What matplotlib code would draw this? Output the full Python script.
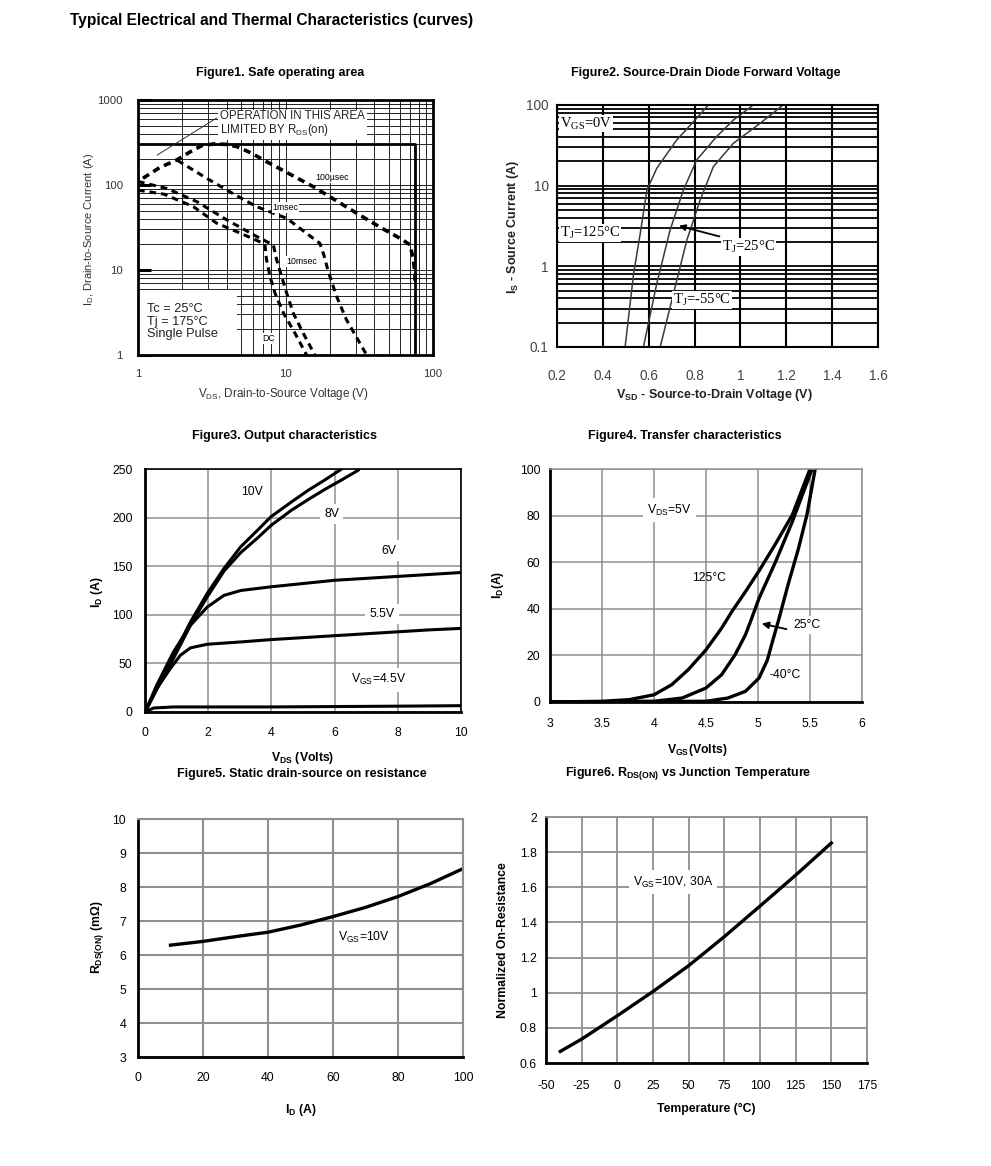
import numpy as np
import matplotlib.pyplot as plt
from matplotlib.patches import Rectangle
from matplotlib.ticker import NullFormatter

plt.rcParams['font.family'] = ['Liberation Sans', 'DejaVu Sans']
plt.rcParams['mathtext.default'] = 'regular'
plt.rcParams['axes.unicode_minus'] = False

W, H = 991, 1166

# figure1 - safe operating area (log-log)
soa_limit_v = [1, 75, 75]
soa_limit_i = [300, 300, 1]
us100_v = [1.08, 1.4, 1.83, 2.3, 2.7, 3.3, 4.0, 4.7, 5.8, 7.45, 10, 15.4, 21, 30.4, 45, 60, 69.8, 73.6, 75.3, 75.6]
us100_i = [120, 160, 197, 250, 290, 305, 300, 282, 240, 188, 143, 95.7, 69, 46.5, 31, 23.5, 19.8, 13.2, 9.2, 7.5]
ms1_v = [1.85, 2.92, 4.2, 6.37, 10.2, 15.4, 17.1, 18.2, 19.5, 22.2, 25.9, 35.5]
ms1_i = [195, 120, 83, 55.6, 40.5, 23.6, 20.6, 15, 9.6, 4.9, 2.6, 1.0]
ms10_v = [1.0, 1.57, 2.5, 4.0, 6.37, 8.27, 8.71, 9.41, 10.2, 11.3, 13.2, 15.8]
ms10_i = [110, 91, 63.8, 38.9, 24.8, 19.7, 13.2, 8.4, 5.3, 3.1, 1.8, 1.0]
dc_v = [1.0, 1.5, 2.37, 3.42, 4.92, 7.07, 7.25, 7.44, 7.85, 8.5, 9.7, 11.6, 13.9]
dc_i = [87, 78, 55.7, 35.5, 27.2, 20.6, 19.8, 13.2, 8.4, 5.3, 3.1, 1.8, 1.0]

# figure2 - body diode forward voltage
vsd_125 = [0.497, 0.534, 0.563, 0.592, 0.635, 0.68, 0.722, 0.795, 0.86]
is_125 = [0.1, 0.81, 2.55, 8.8, 16.4, 25, 36.8, 62, 100]
vsd_25 = [0.577, 0.635, 0.693, 0.751, 0.809, 0.896, 0.969, 1.056]
is_25 = [0.1, 0.61, 2.8, 8.8, 20.8, 40.5, 65, 100]
vsd_m55 = [0.65, 0.708, 0.766, 0.824, 0.882, 0.969, 1.085, 1.186]
is_m55 = [0.1, 0.46, 2.1, 6.6, 17.2, 33.5, 59, 100]
vsd_ticks = [0.2, 0.4, 0.6, 0.8, 1.0, 1.2, 1.4, 1.6]
vsd_labels = ['0.2', '0.4', '0.6', '0.8', '1', '1.2', '1.4', '1.6']

# figure3 - output characteristics
vds_10 = [0, 0.48, 0.9, 1.44, 1.97, 2.5, 3.03, 3.56, 3.99, 4.63, 5.16, 5.69, 6.22]
id_10 = [0, 30.9, 58.4, 92.7, 122, 147.7, 170, 187, 201, 216, 228, 238.7, 250]
vds_8 = [0, 0.48, 0.9, 1.44, 1.97, 2.5, 3.03, 3.56, 3.99, 4.63, 5.16, 5.69, 6.22, 6.76]
id_8 = [0, 30, 55, 89.3, 118.5, 145, 164, 179, 192, 207.5, 218.5, 229, 238.7, 249]
vds_6 = [0, 0.37, 0.9, 1.44, 1.97, 2.5, 3.03, 3.99, 4.95, 6, 7, 8, 9, 10]
id_6 = [0, 27.5, 61.8, 89.3, 108, 120, 125, 128.8, 132, 135.5, 137.5, 139.5, 141.5, 143.5]
vds_55 = [0, 0.37, 0.8, 1.12, 1.44, 1.97, 3, 4, 5, 6, 7, 8, 9, 10]
id_55 = [0, 24, 44.6, 58.4, 66, 69.7, 72, 74.5, 76.5, 78.5, 80.5, 82.5, 84.5, 86]
vds_45 = [0, 0.27, 0.9, 4, 6, 8, 10]
id_45 = [0, 4.1, 5.2, 5.2, 5.6, 6, 6.5]

# figure4 - transfer characteristics
vgs_125 = [3, 3.5, 3.76, 4.0, 4.17, 4.33, 4.5, 4.65, 4.75, 4.88, 5.01, 5.17, 5.33, 5.5]
id_125 = [0, 0.3, 1, 3.1, 7.4, 13.9, 22.4, 31.7, 38.9, 47.4, 56.3, 68, 80.3, 100]
vgs_25 = [3, 4.0, 4.27, 4.5, 4.65, 4.78, 4.88, 4.94, 5.01, 5.17, 5.33, 5.52]
id_25 = [0, 0.3, 1.7, 6, 11.7, 20.3, 28.9, 36, 44.5, 60.3, 77.4, 100]
vgs_m40 = [3, 4.5, 4.71, 4.88, 5.01, 5.09, 5.13, 5.2, 5.29, 5.39, 5.47, 5.55]
id_m40 = [0, 0.3, 1.7, 4.6, 10.3, 18, 24.5, 35.5, 50.5, 66, 80.3, 100]
vgs_labels = ['3', '3.5', '4', '4.5', '5', '5.5', '6']

# figure5 - rds(on) vs drain current
id_r = [10, 20, 30, 40, 50, 60, 70, 80, 90, 100]
rds = [6.29, 6.40, 6.54, 6.67, 6.88, 7.13, 7.40, 7.72, 8.10, 8.54]

# figure6 - normalized rds(on) vs temperature
temp = [-40, -25, 0, 25, 50, 75, 100, 125, 150]
rnorm = [0.666, 0.736, 0.869, 1.007, 1.154, 1.319, 1.493, 1.669, 1.852]
rnorm_labels = ['0.6', '0.8', '1', '1.2', '1.4', '1.6', '1.8', '2']


fig = plt.figure(figsize=(W / 100, H / 100), dpi=100)


def add_ax(l, t, r, b):
    # axes from pixel box of the reference
    return fig.add_axes([l / W, 1 - b / H, (r - l) / W, (b - t) / H])


def ftext(x, y, s, **kw):
    return fig.text(x / W, 1 - y / H, s, **kw)


white = dict(facecolor='white', edgecolor='none', pad=0.6)
white3 = dict(facecolor='white', edgecolor='none', pad=3)
grey = '#8f8f8f'

ftext(70, 20, 'Typical Electrical and Thermal Characteristics (curves)', fontsize=11.2,
      fontweight='bold', ha='left', va='center')

# ---------------- figure1
ax1 = add_ax(138, 100, 433, 355)
ax1.set_xscale('log')
ax1.set_yscale('log')
ax1.set_xlim(1, 100)
ax1.set_ylim(1, 1000)
ax1.set_axisbelow(True)
ax1.grid(True, which='both', color='black', lw=0.6)
ax1.add_patch(Rectangle((1, 1), 3.7, 4.8, facecolor='white', edgecolor='none', zorder=1))
ax1.set_xticks([1, 10, 100], ['1', '10', '100'])
ax1.set_yticks([1, 10, 100, 1000], ['1', '10', '100', '1000'])
ax1.xaxis.set_minor_formatter(NullFormatter())
ax1.yaxis.set_minor_formatter(NullFormatter())
ax1.tick_params(axis='x', which='both', length=0, pad=10, labelsize=8.2, colors='#333333')
ax1.tick_params(axis='y', which='major', direction='in', length=9, width=2.2, pad=11, labelsize=8.2,
                labelcolor='#333333')
ax1.tick_params(axis='y', which='minor', length=0)
for s in ax1.spines.values():
    s.set_linewidth(2)
ax1.plot(soa_limit_v, soa_limit_i, color='black', lw=2)
ax1.plot(us100_v, us100_i, color='black', lw=2.6, ls=(0, (2.0, 1.4)))
ax1.plot(ms1_v, ms1_i, color='black', lw=2.2, ls=(0, (2.2, 1.6)))
ax1.plot(ms10_v, ms10_i, color='black', lw=2.2, ls=(0, (2.2, 1.6)))
ax1.plot(dc_v, dc_i, color='black', lw=2.2, ls=(0, (2.2, 1.6)))
ax1.annotate('', xy=(1.3, 216), xytext=(3.55, 640), arrowprops=dict(arrowstyle='-', lw=0.7, color='#333333'))
ax1.text(3.6, 520, 'OPERATION IN THIS AREA\nLIMITED BY R$_{DS}$(on)', fontsize=8.3, ha='left', va='center',
         linespacing=1.0, color='#222222', bbox=dict(facecolor='white', edgecolor='none', pad=1.5))
ax1.text(20.6, 123, '100µsec', fontsize=6.3, ha='center', va='center', bbox=white)
ax1.text(10.0, 54, '1msec', fontsize=6.3, ha='center', va='center', bbox=white)
ax1.text(12.9, 12.5, '10msec', fontsize=6.3, ha='center', va='center', bbox=white)
ax1.text(7.74, 1.57, 'DC', fontsize=6.3, ha='center', va='center', bbox=white)
ax1.text(1.15, 2.45, 'Tc = 25°C\nTj = 175°C\nSingle Pulse', fontsize=9.2, ha='left', va='center',
         linespacing=1.05, color='#222222')
ftext(280, 73, 'Figure1. Safe operating area', fontsize=9, fontweight='bold', ha='center', va='center')
ftext(283, 394, 'V$_{DS}$, Drain-to-Source Voltage (V)', fontsize=8.4, ha='center', va='center',
      color='#333333')
ftext(89, 229, 'I$_D$, Drain-to-Source Current (A)', fontsize=8, ha='center', va='center',
      rotation=90, color='#333333')

# ---------------- figure2
ax2 = add_ax(557, 105, 878, 347)
ax2.set_yscale('log')
ax2.set_xlim(0.2, 1.6)
ax2.set_ylim(0.1, 100)
ax2.set_axisbelow(True)
ax2.grid(True, axis='y', which='both', color='black', lw=1.3)
ax2.grid(True, axis='x', which='major', color='black', lw=1.5)
ax2.set_xticks(vsd_ticks, vsd_labels)
ax2.set_yticks([0.1, 1, 10, 100], ['0.1', '1', '10', '100'])
ax2.yaxis.set_minor_formatter(NullFormatter())
ax2.tick_params(axis='x', length=0, pad=16, labelsize=9.8, colors='#444444')
ax2.tick_params(axis='y', which='both', length=0, pad=6, labelsize=9.8, colors='#444444')
for s in ax2.spines.values():
    s.set_linewidth(1.5)
ax2.plot(vsd_125, is_125, color='#3a3a3a', lw=1.1)
ax2.plot(vsd_25, is_25, color='#3a3a3a', lw=1.1)
ax2.plot(vsd_m55, is_m55, color='#3a3a3a', lw=1.1)
serif = ['Liberation Serif', 'DejaVu Serif']
ax2.text(0.212, 59, 'V$_{GS}$=0V', family=serif, fontsize=10.5, ha='left', va='center', bbox=white)
ax2.text(0.212, 2.56, 'T$_J$=125°C', family=serif, fontsize=10.5, ha='left', va='center', bbox=white)
ax2.text(0.92, 1.75, 'T$_J$=25°C', family=serif, fontsize=10.5, ha='left', va='center', bbox=white)
ax2.text(0.705, 0.38, 'T$_J$=-55°C', family=serif, fontsize=10.5, ha='left', va='center', bbox=white)
ax2.annotate('', xy=(0.72, 3.24), xytext=(0.92, 2.3),
             arrowprops=dict(arrowstyle='-|>', lw=1.3, color='black', mutation_scale=9))
ftext(706, 73, 'Figure2. Source-Drain Diode Forward Voltage', fontsize=9, fontweight='bold',
      ha='center', va='center')
ftext(714, 395, 'V$_{SD}$ - Source-to-Drain Voltage (V)', fontsize=9, fontweight='bold',
      ha='center', va='center', color='#222222')
ftext(513, 227, 'I$_S$ - Source Current (A)', fontsize=9, fontweight='bold', ha='center', va='center',
      rotation=90, color='#222222')

# ---------------- figure3
ax3 = add_ax(145, 469, 461, 712)
ax3.set_xlim(0, 10)
ax3.set_ylim(0, 250)
ax3.set_axisbelow(True)
ax3.grid(True, color=grey, lw=1.1)
ax3.set_xticks(np.arange(0, 11, 2))
ax3.set_yticks(np.arange(0, 251, 50))
ax3.tick_params(length=0, labelsize=8.8)
ax3.tick_params(axis='x', pad=11)
ax3.tick_params(axis='y', pad=9)
for side, s in ax3.spines.items():
    s.set_linewidth(2 if side in ('left', 'bottom') else 1.2)
for xs, ys in [(vds_10, id_10), (vds_8, id_8), (vds_6, id_6), (vds_55, id_55), (vds_45, id_45)]:
    ax3.plot(xs, ys, color='black', lw=2.2, solid_capstyle='round', solid_joinstyle='round')
ax3.text(3.4, 226, '10V', fontsize=8.8, ha='center', va='center')
ax3.text(5.9, 204, '8V', fontsize=8.8, ha='center', va='center', bbox=white3)
ax3.text(7.7, 166, '6V', fontsize=8.8, ha='center', va='center', bbox=white3)
ax3.text(7.5, 101, '5.5V', fontsize=8.8, ha='center', va='center', bbox=white3)
ax3.text(7.4, 33, 'V$_{GS}$=4.5V', fontsize=8.8, ha='center', va='center', bbox=white3)
ftext(284, 436, 'Figure3. Output characteristics', fontsize=9, fontweight='bold', ha='center', va='center')
ftext(303, 758, 'V$_{DS}$ (Volts)', fontsize=8.8, fontweight='bold', ha='center', va='center')
ftext(97, 592, 'I$_D$ (A)', fontsize=8.8, fontweight='bold', ha='center', va='center', rotation=90)

# ---------------- figure4
ax4 = add_ax(550, 469, 862, 702)
ax4.set_xlim(3, 6)
ax4.set_ylim(0, 100)
ax4.set_axisbelow(True)
ax4.grid(True, color=grey, lw=1.1)
ax4.set_xticks(np.arange(3, 6.01, 0.5), vgs_labels)
ax4.set_yticks(np.arange(0, 101, 20))
ax4.tick_params(length=0, labelsize=8.8)
ax4.tick_params(axis='x', pad=11.5)
ax4.tick_params(axis='y', pad=7)
for side, s in ax4.spines.items():
    if side in ('left', 'bottom'):
        s.set_linewidth(2)
    else:
        s.set_linewidth(1.1)
        s.set_color(grey)
for xs, ys in [(vgs_125, id_125), (vgs_25, id_25), (vgs_m40, id_m40)]:
    ax4.plot(xs, ys, color='black', lw=2.4, solid_joinstyle='round')
ax4.text(4.15, 82.4, 'V$_{DS}$=5V', fontsize=8.8, ha='center', va='center', bbox=white3)
ax4.text(4.53, 53.1, '125°C', fontsize=8.8, ha='center', va='center')
ax4.text(5.47, 33.1, '25°C', fontsize=8.8, ha='center', va='center',
         bbox=dict(facecolor='white', edgecolor='none', pad=2))
ax4.text(5.26, 11.7, '-40°C', fontsize=8.8, ha='center', va='center')
ax4.annotate('', xy=(5.01, 33.9), xytext=(5.3, 31),
             arrowprops=dict(arrowstyle='-|>', lw=1.3, color='black', mutation_scale=10))
ftext(685, 436, 'Figure4. Transfer characteristics', fontsize=9, fontweight='bold', ha='center', va='center')
ftext(697, 750, 'V$_{GS}$(Volts)', fontsize=8.8, fontweight='bold', ha='center', va='center')
ftext(498, 585, 'I$_D$(A)', fontsize=8.8, fontweight='bold', ha='center', va='center', rotation=90)

# ---------------- figure5
ax5 = add_ax(138, 819, 463, 1057)
ax5.set_xlim(0, 100)
ax5.set_ylim(3, 10)
ax5.set_axisbelow(True)
ax5.grid(True, color=grey, lw=1.5)
ax5.set_xticks(np.arange(0, 101, 20))
ax5.set_yticks(np.arange(3, 11, 1))
ax5.tick_params(length=0, labelsize=8.8)
ax5.tick_params(axis='x', pad=11)
ax5.tick_params(axis='y', pad=8.5)
for side, s in ax5.spines.items():
    if side in ('left', 'bottom'):
        s.set_linewidth(2)
    else:
        s.set_linewidth(1.5)
        s.set_color(grey)
ax5.plot(id_r, rds, color='black', lw=2.4)
ax5.text(69.6, 6.53, 'V$_{GS}$=10V', fontsize=8.8, ha='center', va='center', bbox=white)
ftext(302, 774, 'Figure5. Static drain-source on resistance', fontsize=9, fontweight='bold',
      ha='center', va='center')
ftext(301, 1110, 'I$_D$ (A)', fontsize=8.8, fontweight='bold', ha='center', va='center')
ftext(97, 937, 'R$_{DS(ON)}$ (mΩ)', fontsize=8.8, fontweight='bold', ha='center', va='center', rotation=90)

# ---------------- figure6
ax6 = add_ax(546, 817, 867, 1063)
ax6.set_xlim(-50, 175)
ax6.set_ylim(0.6, 2)
ax6.set_axisbelow(True)
ax6.grid(True, color=grey, lw=1.3)
ax6.set_xticks(np.arange(-50, 176, 25))
ax6.set_yticks(np.arange(0.6, 2.01, 0.2), rnorm_labels)
ax6.tick_params(length=0, labelsize=8.8)
ax6.tick_params(axis='x', pad=12)
ax6.tick_params(axis='y', pad=6.5)
for side, s in ax6.spines.items():
    if side in ('left', 'bottom'):
        s.set_linewidth(2)
    else:
        s.set_linewidth(1.3)
        s.set_color(grey)
ax6.plot(temp, rnorm, color='black', lw=2.4)
ax6.text(39, 1.629, 'V$_{GS}$=10V, 30A', fontsize=8.8, ha='center', va='center', bbox=white3)
ftext(688, 774, 'Figure6. R$_{DS(ON)}$ vs Junction Temperature', fontsize=9, fontweight='bold',
      ha='center', va='center')
ftext(706, 1109, 'Temperature (°C)', fontsize=8.8, fontweight='bold', ha='center', va='center')
ftext(503, 940, 'Normalized On-Resistance', fontsize=8.8, fontweight='bold', ha='center', va='center',
      rotation=90)

fig.savefig('out.png', dpi=100)
